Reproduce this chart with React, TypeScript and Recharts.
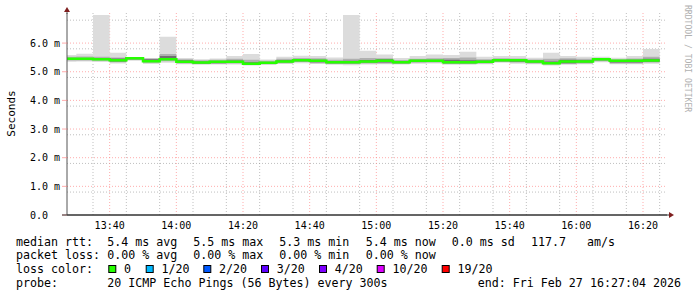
import React from "react";
import { ComposedChart, Area, Line, XAxis, YAxis, CartesianGrid } from "recharts";

const MONO = "'DejaVu Sans Mono', monospace";

// step start times, minutes after 13:00 (last entry closes the final step)
const times = [25, 30, 35, 40, 45, 50, 55, 60, 65, 70, 75, 80, 85, 90, 95, 100, 105, 110, 115, 120, 125, 130, 135, 140, 145, 150, 155, 160, 165, 170, 175, 180, 185, 190, 195, 200, 205];

// ms, one value per 5-minute step
const median = [5.45, 5.45, 5.44, 5.40, 5.47, 5.37, 5.44, 5.35, 5.32, 5.35, 5.35, 5.28, 5.31, 5.36, 5.40, 5.38, 5.33, 5.33, 5.36, 5.38, 5.33, 5.38, 5.38, 5.33, 5.33, 5.35, 5.40, 5.40, 5.36, 5.30, 5.36, 5.36, 5.44, 5.38, 5.38, 5.39];
const smokeMax = [5.58, 5.63, 6.98, 5.66, 5.50, 5.48, 6.22, 5.48, 5.44, 5.46, 5.55, 5.62, 5.43, 5.52, 5.56, 5.55, 5.50, 6.98, 5.73, 5.60, 5.48, 5.55, 5.60, 5.58, 5.70, 5.52, 5.55, 5.55, 5.49, 5.66, 5.55, 5.52, 5.52, 5.49, 5.55, 5.79];
const smokeUp = [5.52, 5.53, 5.52, 5.50, 5.49, 5.46, 5.62, 5.44, 5.40, 5.42, 5.45, 5.42, 5.38, 5.45, 5.48, 5.47, 5.42, 5.45, 5.48, 5.47, 5.41, 5.45, 5.47, 5.48, 5.50, 5.44, 5.47, 5.46, 5.43, 5.45, 5.47, 5.45, 5.48, 5.44, 5.46, 5.52];
const darkUp = [5.48, 5.48, 5.47, 5.46, 5.48, 5.44, 5.55, 5.40, 5.36, 5.37, 5.39, 5.33, 5.34, 5.40, 5.44, 5.42, 5.37, 5.38, 5.41, 5.44, 5.37, 5.42, 5.42, 5.42, 5.40, 5.39, 5.43, 5.43, 5.39, 5.36, 5.42, 5.40, 5.46, 5.41, 5.42, 5.45];
const darkLo = [5.41, 5.42, 5.41, 5.36, 5.44, 5.34, 5.41, 5.32, 5.29, 5.30, 5.31, 5.26, 5.28, 5.33, 5.37, 5.33, 5.30, 5.30, 5.32, 5.32, 5.30, 5.34, 5.35, 5.30, 5.30, 5.32, 5.37, 5.35, 5.32, 5.27, 5.30, 5.32, 5.40, 5.32, 5.32, 5.35];
const smokeDn = [5.39, 5.39, 5.38, 5.33, 5.41, 5.31, 5.37, 5.29, 5.27, 5.28, 5.29, 5.24, 5.26, 5.30, 5.34, 5.30, 5.27, 5.27, 5.29, 5.29, 5.28, 5.31, 5.32, 5.27, 5.27, 5.29, 5.34, 5.32, 5.29, 5.25, 5.27, 5.29, 5.37, 5.29, 5.29, 5.32];
const smokeMin = [5.35, 5.36, 5.34, 5.29, 5.38, 5.27, 5.31, 5.26, 5.24, 5.25, 5.25, 5.22, 5.24, 5.27, 5.30, 5.27, 5.24, 5.23, 5.25, 5.26, 5.25, 5.28, 5.29, 5.24, 5.24, 5.26, 5.31, 5.28, 5.26, 5.22, 5.24, 5.26, 5.33, 5.26, 5.26, 5.28];

const xTicks = [40, 60, 80, 100, 120, 140, 160, 180, 200];
const xTickLabels = ["13:40", "14:00", "14:20", "14:40", "15:00", "15:20", "15:40", "16:00", "16:20"];
const yTicks = [0, 1, 2, 3, 4, 5, 6];
const yTickLabels = ["0.0", "1.0 m", "2.0 m", "3.0 m", "4.0 m", "5.0 m", "6.0 m"];

const rttStats = ["5.4 ms avg", "5.5 ms max", "5.3 ms min", "5.4 ms now", "0.0 ms sd", "117.7", "am/s"];
const rttX = [107.3, 193.3, 279.3, 365.7, 451.7, 531, 587];
const lossStats = ["0.00 % avg", "0.00 % max", "0.00 % min", "0.00 % now"];
const lossX = [107.3, 193.3, 279.3, 365.7];
const lossLabels = ["0", "1/20", "2/20", "3/20", "4/20", "10/20", "19/20"];
const lossColors = ["#26ff00", "#00b8ff", "#0059ff", "#5e00ff", "#7e00ff", "#dd00ff", "#ff0000"];
const lossBoxX = [108.3, 145.7, 203.3, 261, 319, 376.7, 441.7];

const rows = times.map((t, i) => {
  const k = Math.min(i, median.length - 1);
  return {
    t,
    m: median[k],
    outer: [smokeMin[k], smokeMax[k]],
    mid: [smokeDn[k], smokeUp[k]],
    dark: [darkLo[k], darkUp[k]],
  };
});

const minorX: number[] = [];
for (let t = 30; t <= 205; t += 5) if (t % 20 !== 0) minorX.push(t);
const minorY: number[] = [];
for (let i = 1; i <= 34; i++) if (i % 5 !== 0) minorY.push(Math.round(i * 2) / 10);

const XTick = (props: any) => {
  const idx = xTicks.indexOf(props.payload.value);
  return (
    <text x={props.x} y={229} textAnchor="middle" fontFamily={MONO} fontSize={10} fill="#000">
      {xTickLabels[idx]}
    </text>
  );
};

const YTick = (props: any) => {
  const idx = yTicks.indexOf(props.payload.value);
  return (
    <text x={30} y={props.y + 3.6} textAnchor="start" fontFamily={MONO} fontSize={10} fill="#000">
      {yTickLabels[idx]}
    </text>
  );
};

export default function App() {
  const fs = 11.65;
  return (
    <div style={{ position: "absolute", left: 0, top: 0, width: 697, height: 297, background: "#fff" }}>
      <ComposedChart width={697} height={297} data={rows} margin={{ top: 13, right: 30, bottom: 62, left: 0 }}>
        <CartesianGrid horizontalValues={minorY} verticalValues={minorX} stroke="#808080" strokeOpacity={0.5} strokeDasharray="1 2" />
        <CartesianGrid horizontalValues={[1, 2, 3, 4, 5, 6]} verticalValues={xTicks} stroke="#ff8080" strokeOpacity={0.65} strokeDasharray="1 2" />
        <XAxis type="number" dataKey="t" domain={[27.2, 207.2]} allowDataOverflow ticks={xTicks} tick={<XTick />} tickLine={false} axisLine={{ stroke: "#333" }} height={20} />
        <YAxis type="number" domain={[0, 7.05]} allowDataOverflow ticks={yTicks} tick={<YTick />} width={67} tickSize={5} tickLine={{ stroke: "#ff8080", strokeOpacity: 0.65 }} axisLine={{ stroke: "#555" }} />
        <Area type="stepAfter" dataKey="outer" fill="#dcdcdc" fillOpacity={1} stroke="none" isAnimationActive={false} />
        <Area type="stepAfter" dataKey="mid" fill="#b0b0b0" fillOpacity={1} stroke="none" isAnimationActive={false} />
        <Area type="stepAfter" dataKey="dark" fill="#707070" fillOpacity={1} stroke="none" isAnimationActive={false} />
        <Line type="stepAfter" dataKey="m" stroke="#26ff00" strokeWidth={2.5} dot={false} isAnimationActive={false} />
      </ComposedChart>
      <svg width={697} height={297} style={{ position: "absolute", left: 0, top: 0, pointerEvents: "none" }}>
        <line x1={62} y1={215} x2={669} y2={215} stroke="#333" />
        <line x1={67} y1={9} x2={67} y2={14} stroke="#555" />
        <polygon points="67,7 64,12 70,12" fill="#7f1f1f" />
        <polygon points="674,215 669,212 669,218" fill="#7f1f1f" />
        <text x={15} y={113.5} transform="rotate(-90 15 113.5)" textAnchor="middle" fontFamily={MONO} fontSize={11} fill="#000">
          Seconds
        </text>
        <text x={685} y={5} transform="rotate(90 685 5)" textAnchor="start" fontFamily={MONO} fontSize={8.1} fill="#b0b0b0">
          RRDTOOL / TOBI OETIKER
        </text>
        <g fontFamily={MONO} fontSize={fs} fill="#000">
          <text x={16} y={245.7}>median rtt:</text>
          {rttStats.map((s, i) => (
            <text key={s + i} x={rttX[i]} y={245.7}>{s}</text>
          ))}
          <text x={16} y={259.4}>packet loss:</text>
          {lossStats.map((s, i) => (
            <text key={s + i} x={lossX[i]} y={259.4}>{s}</text>
          ))}
          <text x={16} y={273.2}>loss color:</text>
          {lossLabels.map((s, i) => (
            <g key={s}>
              <rect x={lossBoxX[i] + 0.5} y={265.5} width={7} height={7} fill={lossColors[i]} stroke="#000" />
              <text x={lossBoxX[i] + 15.7} y={273.2}>{s}</text>
            </g>
          ))}
          <text x={16} y={286.9}>probe:</text>
          <text x={107.3} y={286.9}>20 ICMP Echo Pings (56 Bytes) every 300s</text>
          <text x={681} y={286.9} textAnchor="end">end: Fri Feb 27 16:27:04 2026</text>
        </g>
      </svg>
    </div>
  );
}
